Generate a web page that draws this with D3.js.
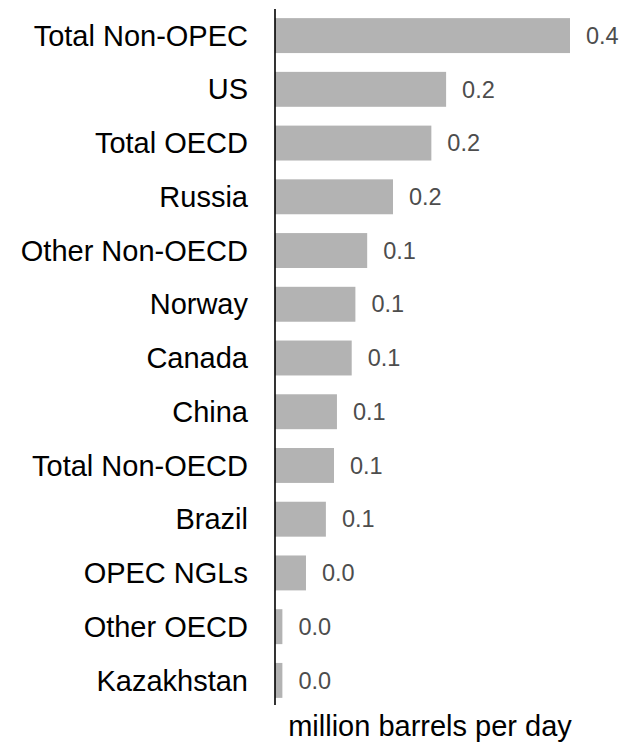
<!DOCTYPE html>
<html>
<head>
<meta charset="utf-8">
<script src="https://cdn.jsdelivr.net/npm/d3@7"></script>
<style>
  body { margin: 0; background: #fff; }
  text { font-family: Arial, "Liberation Sans", sans-serif; }
</style>
</head>
<body>
<div id="chart"></div>
<script>
// categories, top to bottom
var categories = ["Total Non-OPEC", "US", "Total OECD", "Russia", "Other Non-OECD",
  "Norway", "Canada", "China", "Total Non-OECD", "Brazil", "OPEC NGLs",
  "Other OECD", "Kazakhstan"];

// growth, million barrels per day
var values = [0.400, 0.232, 0.212, 0.160, 0.125, 0.109, 0.104, 0.084, 0.080,
  0.069, 0.042, 0.010, 0.010];

var axisTitle = "million barrels per day";

var width = 622, height = 743;

var svg = d3.select("#chart")
  .append("svg")
  .attr("width", width)
  .attr("height", height);

var x = d3.scaleLinear()
  .domain([0, d3.max(values)])
  .range([275, 570]);

var y = d3.scaleBand()
  .domain(categories)
  .range([9, 707])
  .paddingInner(0.35)
  .paddingOuter(0.17);

var fmt = d3.format(".1f");

var data = categories.map(function (c, i) { return { name: c, value: values[i] } });

// bars
svg.append("g")
  .selectAll("rect")
  .data(data)
  .enter()
  .append("rect")
  .attr("x", x(0))
  .attr("y", function (d) { return y(d.name); })
  .attr("width", function (d) { return x(d.value) - x(0); })
  .attr("height", y.bandwidth())
  .style("fill", "#b3b3b3");

// value labels
svg.append("g")
  .selectAll("text")
  .data(data)
  .enter()
  .append("text")
  .attr("x", function (d) { return x(d.value) + 16; })
  .attr("y", function (d) { return y(d.name) + y.bandwidth() / 2; })
  .attr("dy", "0.35em")
  .style("font-size", "23.5px")
  .style("fill", "#4d4d4d")
  .text(function (d) { return fmt(d.value); });

// category labels
svg.append("g")
  .selectAll("text")
  .data(data)
  .enter()
  .append("text")
  .attr("x", 248)
  .attr("y", function (d) { return y(d.name) + y.bandwidth() / 2; })
  .attr("dy", "0.35em")
  .attr("text-anchor", "end")
  .style("font-size", "29px")
  .style("fill", "#000")
  .text(function (d) { return d.name; });

// zero line
svg.append("line")
  .attr("x1", x(0))
  .attr("x2", x(0))
  .attr("y1", 9)
  .attr("y2", 705)
  .style("stroke", "#000")
  .style("stroke-width", 1.6);

svg.append("text")
  .attr("x", 430)
  .attr("y", 736)
  .attr("text-anchor", "middle")
  .style("font-size", "29px")
  .style("fill", "#000")
  .text(axisTitle);
</script>
</body>
</html>
